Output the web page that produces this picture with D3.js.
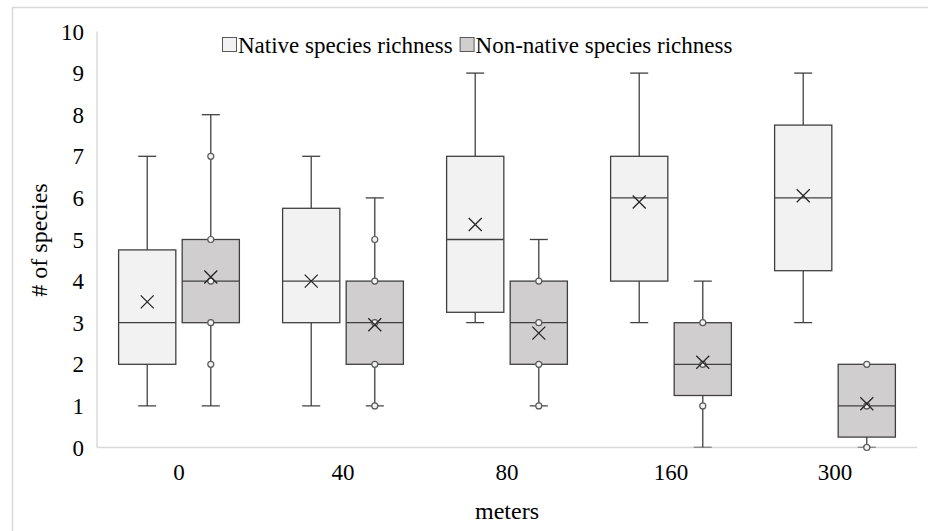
<!DOCTYPE html>
<html>
<head>
<meta charset="utf-8">
<script src="https://cdn.jsdelivr.net/npm/d3@7"></script>
<style>
  html, body { margin: 0; padding: 0; background: #fff; }
  #chart { width: 928px; height: 531px; }
  text { font-family: "Liberation Serif", "Times New Roman", serif; fill: #000; }
</style>
</head>
<body>
<div id="chart"></div>
<script>
// distancias (m) y series
const categories = ['0', '40', '80', '160', '300'];
const seriesNames = ['Native species richness', 'Non-native species richness'];
const yTicks = [0, 1, 2, 3, 4, 5, 6, 7, 8, 9, 10];

// [min, q1, mediana, q3, max, media]
const nativeStats = [
  [1, 2, 3, 4.75, 7, 3.5],
  [1, 3, 4, 5.75, 7, 4.0],
  [3, 3.25, 5, 7, 9, 5.36],
  [3, 4, 6, 7, 9, 5.9],
  [3, 4.25, 6, 7.75, 9, 6.05]
];
const nonNativeStats = [
  [1, 3, 4, 5, 8, 4.1],
  [1, 2, 3, 4, 6, 2.95],
  [1, 2, 3, 4, 5, 2.75],
  [0, 1.25, 2, 3, 4, 2.05],
  [0, 0.25, 1, 2, 2, 1.05]
];
// puntos interiores (solo la serie no nativa los muestra)
const nonNativePoints = [
  [7, 5, 4, 3, 2],
  [5, 4, 3, 2, 1],
  [4, 3, 2, 1],
  [3, 2, 1],
  [2, 1, 0]
];

const fills = ['#f2f2f2', '#d0cece'];
const strokeCol = '#404040';

(function(){
  const width = 928, height = 531;
  const svg = d3.select('#chart').append('svg')
    .attr('width', width).attr('height', height);

  // marco exterior
  svg.append('rect')
    .attr('x', 12.5).attr('y', 7.5)
    .attr('width', 930).attr('height', 540)
    .attr('fill', 'none').attr('stroke', '#d9d9d9').attr('stroke-width', 1.5);

  const plot = { left: 97, right: 917, top: 31.5, bottom: 447.5 };

  const x0 = d3.scaleBand().domain(categories).range([plot.left, plot.right]);
  const x1 = d3.scaleBand().domain(d3.range(seriesNames.length))
    .range([0, x0.bandwidth()]).paddingInner(0.1).paddingOuter(0.34);
  const y = d3.scaleLinear().domain([0, 10]).range([plot.bottom, plot.top]);

  svg.append('defs').append('clipPath').attr('id', 'clip')
    .append('rect').attr('x', 0).attr('y', 0).attr('width', width).attr('height', plot.bottom);

  // ejes
  svg.append('line')
    .attr('x1', plot.left).attr('x2', plot.left)
    .attr('y1', plot.top).attr('y2', plot.bottom)
    .attr('stroke', '#d9d9d9').attr('stroke-width', 1.5);
  svg.append('line')
    .attr('x1', plot.left).attr('x2', plot.right)
    .attr('y1', plot.bottom).attr('y2', plot.bottom)
    .attr('stroke', '#d9d9d9').attr('stroke-width', 1.5);

  svg.append('g').selectAll('text').data(yTicks).join('text')
    .attr('x', 84).attr('y', d => y(d)).attr('dy', '0.35em')
    .attr('text-anchor', 'end').attr('font-size', 23)
    .text(d => d);

  svg.append('g').selectAll('text').data(categories).join('text')
    .attr('x', d => x0(d) + x0.bandwidth() / 2).attr('y', 472).attr('dy', '0.35em')
    .attr('text-anchor', 'middle').attr('font-size', 23)
    .text(d => d);

  svg.append('text')
    .attr('x', (plot.left + plot.right) / 2).attr('y', 511).attr('dy', '0.35em')
    .attr('text-anchor', 'middle').attr('font-size', 24)
    .text('meters');

  svg.append('text')
    .attr('transform', 'translate(39,240) rotate(-90)').attr('dy', '0.35em')
    .attr('text-anchor', 'middle').attr('font-size', 24)
    .text('# of species');

  // cajas
  const allStats = [nativeStats, nonNativeStats];
  const g = svg.append('g').attr('clip-path', 'url(#clip)');
  const capW = 18;

  allStats.forEach((stats, si) => {
    stats.forEach((s, ci) => {
      const [mn, q1, med, q3, mx, mean] = s;
      const bx = x0(categories[ci]) + x1(si);
      const bw = x1.bandwidth();
      const cx = bx + bw / 2;
      const gg = g.append('g');

      // bigotes
      gg.append('line').attr('x1', cx).attr('x2', cx).attr('y1', y(q3)).attr('y2', y(mx))
        .attr('stroke', strokeCol).attr('stroke-width', 1.3);
      gg.append('line').attr('x1', cx).attr('x2', cx).attr('y1', y(q1)).attr('y2', y(mn))
        .attr('stroke', strokeCol).attr('stroke-width', 1.3);
      [mn, mx].forEach(v => {
        if (v === q1 || v === q3) return;
        gg.append('line').attr('x1', cx - capW / 2).attr('x2', cx + capW / 2)
          .attr('y1', y(v)).attr('y2', y(v))
          .attr('stroke', strokeCol).attr('stroke-width', 1.3);
      });

      gg.append('rect')
        .attr('x', bx).attr('y', y(q3))
        .attr('width', bw).attr('height', y(q1) - y(q3))
        .attr('fill', fills[si]).attr('stroke', strokeCol).attr('stroke-width', 1.3);
      gg.append('line').attr('x1', bx).attr('x2', bx + bw).attr('y1', y(med)).attr('y2', y(med))
        .attr('stroke', strokeCol).attr('stroke-width', 1.3);

      if (si === 1) {
        gg.selectAll('circle').data(nonNativePoints[ci]).join('circle')
          .attr('cx', cx).attr('cy', d => y(d)).attr('r', 3)
          .attr('fill', '#f2f2f2').attr('stroke', '#595959').attr('stroke-width', 1.2);
      }

      const m = 6.5, my = y(mean);
      gg.append('path')
        .attr('d', `M${cx - m},${my - m}L${cx + m},${my + m}M${cx - m},${my + m}L${cx + m},${my - m}`)
        .attr('stroke', '#262626').attr('stroke-width', 1.3).attr('fill', 'none');
    });
  });

  // circulo en 0 fuera del recorte
  nonNativePoints.forEach((pts, ci) => {
    pts.filter(v => v === 0).forEach(v => {
      svg.append('circle')
        .attr('cx', x0(categories[ci]) + x1(1) + x1.bandwidth() / 2).attr('cy', y(v)).attr('r', 3)
        .attr('fill', '#f2f2f2').attr('stroke', '#595959').attr('stroke-width', 1.2);
    });
  });

  // leyenda
  const legend = svg.append('g').attr('transform', 'translate(222,45)');
  let lx = 0;
  seriesNames.forEach((name, i) => {
    legend.append('rect').attr('x', lx + 0.5).attr('y', -7.5).attr('width', 14).attr('height', 14)
      .attr('fill', fills[i]).attr('stroke', '#595959').attr('stroke-width', 1);
    const t = legend.append('text').attr('x', lx + 16).attr('y', 0).attr('dy', '0.35em')
      .attr('font-size', 23).text(name);
    lx += 16 + t.node().getComputedTextLength() + 7;
  });
})();
</script>
</body>
</html>
